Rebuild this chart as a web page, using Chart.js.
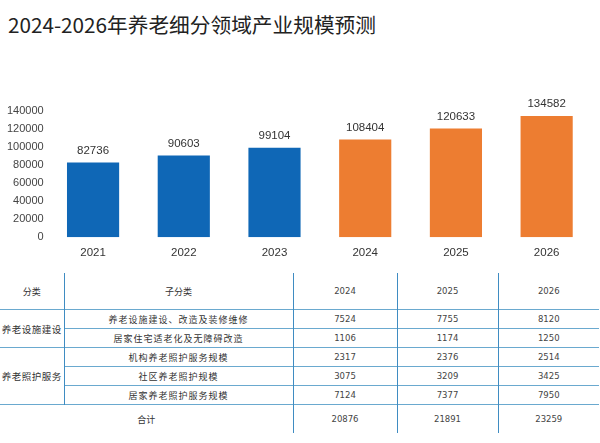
<!DOCTYPE html>
<html>
<head>
<meta charset="utf-8">
<script src="https://cdn.jsdelivr.net/npm/chart.js@4.4.0/dist/chart.umd.min.js"></script>
<style>
  body { margin: 0; background: #fff; width: 600px; height: 443px; overflow: hidden; position: relative; }
  h1 {
    position: absolute; left: 8px; top: 9px; margin: 0;
    font: 400 20.7px "Noto Sans CJK SC", "Noto Sans", sans-serif; color: #222;
  }
  #chartBox { position: absolute; left: 0; top: 90px; width: 600px; height: 183px; }
  table {
    position: absolute; left: 0; top: 273px; width: 599px;
    border-collapse: collapse; table-layout: fixed;
    font: 9px "Noto Sans CJK SC", sans-serif; color: #333;
  }
  td { text-align: center; padding: 0; border-top: 1px solid #6aa9cf; border-left: 1px solid #3f8cc2; }
  td.first { border-left: none; }
  tr.head td { border-top: none; height: 36px; }
  tr.row td { height: 18px; }
  tr.total td { height: 28px; }
  td.num { font-family: "DejaVu Sans", sans-serif; font-size: 8.5px; color: #444; }
  td.sub { letter-spacing: 1px; }
  td.cat { letter-spacing: 0.5px; font-size: 9.5px; }
</style>
</head>
<body>
<h1>2024-2026年养老细分领域产业规模预测</h1>
<div id="chartBox"><canvas id="sizeChart"></canvas></div>
<table id="detail"></table>
<script>
// bar chart data
const years = ['2021', '2022', '2023', '2024', '2025', '2026'];
const marketSize = [82736, 90603, 99104, 108404, 120633, 134582];
const barColors = ['#0f67b6', '#0f67b6', '#0f67b6', '#ed7d31', '#ed7d31', '#ed7d31'];

// table data
const tableYears = ['2024', '2025', '2026'];
const categories = ['养老设施建设', '养老照护服务'];
const categoryRows = [2, 3];
const subCategories = [
  '养老设施建设、改造及装修维修',
  '居家住宅适老化及无障碍改造',
  '机构养老照护服务规模',
  '社区养老照护规模',
  '居家养老照护服务规模'
];
const values2024 = [7524, 1106, 2317, 3075, 7124];
const values2025 = [7755, 1174, 2376, 3209, 7377];
const values2026 = [8120, 1250, 2514, 3425, 7950];
const totals = [20876, 21891, 23259];

function buildTable() {
  const table = document.getElementById('detail');
  let html = '<colgroup><col style="width:64px"><col style="width:229px"><col style="width:104px"><col style="width:101px"><col style="width:101px"></colgroup>';
  html += '<tr class="head"><td class="first">分类</td><td>子分类</td>' +
    tableYears.map(y => '<td class="num">' + y + '</td>').join('') + '</tr>';
  let idx = 0;
  categories.forEach((cat, c) => {
    for (let r = 0; r < categoryRows[c]; r++) {
      html += '<tr class="row">';
      if (r === 0) html += '<td class="first cat" rowspan="' + categoryRows[c] + '">' + cat + '</td>';
      html += '<td class="sub">' + subCategories[idx] + '</td>';
      html += '<td class="num">' + values2024[idx] + '</td>';
      html += '<td class="num">' + values2025[idx] + '</td>';
      html += '<td class="num">' + values2026[idx] + '</td>';
      html += '</tr>';
      idx++;
    }
  });
  html += '<tr class="total"><td class="first" colspan="2" style="border-left:none">合计</td>' +
    totals.map(t => '<td class="num">' + t + '</td>').join('') + '</tr>';
  table.innerHTML = html;
}

// draws the value above each bar
const valueLabels = {
  id: 'valueLabels',
  afterDatasetsDraw(chart) {
    const ctx = chart.ctx;
    const meta = chart.getDatasetMeta(0);
    ctx.save();
    ctx.font = '11.5px "Liberation Sans", sans-serif';
    ctx.fillStyle = '#333';
    ctx.textAlign = 'center';
    ctx.textBaseline = 'middle';
    meta.data.forEach((bar, i) => {
      ctx.fillText(chart.data.datasets[0].data[i], bar.x, bar.y - 12);
    });
    ctx.restore();
  }
};

function createSizeChart() {
  const ctx = document.getElementById('sizeChart').getContext('2d');
  new Chart(ctx, {
    type: 'bar',
    data: {
      labels: years,
      datasets: [{
        data: marketSize,
        backgroundColor: barColors,
        barPercentage: 0.575,
        categoryPercentage: 1
      }]
    },
    options: {
      responsive: true,
      maintainAspectRatio: false,
      animation: false,
      layout: { padding: { left: 3, right: 8, top: 21, bottom: 4 } },
      plugins: { legend: { display: false }, tooltip: { enabled: false } },
      scales: {
        x: {
          grid: { display: false, drawTicks: false },
          border: { display: false },
          ticks: { padding: 9, color: '#333', font: { size: 11.5, family: '"Liberation Sans", sans-serif' } }
        },
        y: {
          min: 0,
          max: 140000,
          grid: { display: false, drawTicks: false },
          border: { display: false },
          ticks: {
            stepSize: 20000, padding: 4, color: '#444',
            font: { size: 11, family: '"Liberation Sans", sans-serif' },
            callback: v => String(v)
          }
        }
      }
    },
    plugins: [valueLabels]
  });
}

document.addEventListener('DOMContentLoaded', function () {
  buildTable();
  createSizeChart();
});
</script>
</body>
</html>
